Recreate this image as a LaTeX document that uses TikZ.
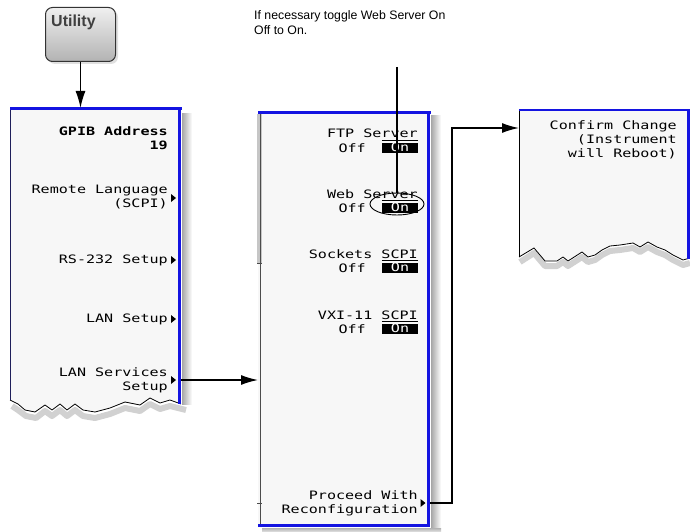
\documentclass[tikz,border=0pt]{standalone}
\usepackage{fontspec}
\setmainfont{Liberation Sans}
\newfontfamily\pf[FakeStretch=1.3]{DejaVu Sans Mono}
\usetikzlibrary{arrows.meta,shapes.geometric}
\definecolor{pblue}{RGB}{20,20,225}
\definecolor{pbg}{RGB}{247,247,247}
\definecolor{pedge}{RGB}{30,30,90}
\tikzset{
  arr/.style={line width=1.4pt,-{Latex[length=17pt,width=10pt]}},
  keytxt/.style={font=\pf\fontsize{11.6}{14}\selectfont, align=right, anchor=east, inner sep=0pt},
  keybold/.style={keytxt, font=\pf\bfseries\fontsize{11.6}{14}\selectfont},
  onbox/.style={fill=black, text=white, font=\pf\fontsize{11.6}{11}\selectfont, minimum width=36pt, minimum height=10pt, inner sep=0pt, text height=7pt, text depth=1pt},
  area/.style={draw=none, inner sep=0pt, anchor=north west},
  bluetop/.style={pblue, line width=2.5pt},
  blueside/.style={pblue, line width=3pt},
  tear/.style={black, line width=0.8pt, line join=round},
  tearshadow/.style={black, opacity=0.18, line width=6pt, line join=round},
}
\newcommand{\softtri}[1]{\fill #1 ++(-2.5,-4) -- ++(5,4) -- ++(-5,4) -- cycle;}
\begin{document}
\begin{tikzpicture}[x=1pt,y=-1pt]
\useasboundingbox (0,0) rectangle (690,532);

% ---------------- Utility button ----------------
\fill[gray!40,opacity=0.6,rounded corners=7pt] (48,10) rectangle (118,64);
\node (util) [draw=black!80, line width=1pt, rounded corners=7pt, top color=gray!12, bottom color=gray!60,
  minimum width=70pt, minimum height=54pt, anchor=north west, inner sep=0pt] at (45,7) {};
\node (utiltext) [font=\bfseries\fontsize{16}{16}\selectfont, text=black!75, anchor=west, inner sep=0pt] at (51,22) {Utility};

% ---------------- Left panel ----------------
\node (LP) [area, minimum width=171pt, minimum height=300pt] at (10,108) {};
% shadow
\shade[left color=gray!70, right color=white] (182,114) rectangle (192,404);
\draw[tearshadow] (12,406) -- (18,410) -- (26,416) -- (36,418) -- (45,411) -- (52,416) -- (60,410) -- (67,416) -- (75,410) -- (83,416) -- (95,418) -- (110,414) -- (125,408) -- (140,411) -- (150,404) -- (160,409) -- (170,406) -- (186,410);
\fill[pbg] (10,108) -- (181,108) -- (181,404) -- (170,400) -- (160,403) -- (150,398) -- (140,405) -- (125,402) -- (110,408) -- (95,412) -- (83,410) -- (75,404) -- (67,410) -- (60,404) -- (52,410) -- (45,405) -- (35,412) -- (25,410) -- (18,404) -- (10,400) -- cycle;
\draw[tear] (10,400) -- (18,404) -- (25,410) -- (35,412) -- (45,405) -- (52,410) -- (60,404) -- (67,410) -- (75,404) -- (83,410) -- (95,412) -- (110,408) -- (125,402) -- (140,405) -- (150,398) -- (160,403) -- (170,400) -- (181,404);
\draw[pedge, line width=1.2pt] (10.5,108) -- (10.5,400);
\draw[bluetop] (10,108.5) -- (182,108.5);
\draw[blueside] (179.5,108) -- (179.5,404);

\node (gpib) [keybold] at (168,138) {GPIB Address\\19};
\node (rl)   [keytxt]  at (168,197) {Remote Language\\(SCPI)};
\coordinate (rltri) at (173.5,198);
\node (rs)   [keytxt]  at (168,260) {RS-232 Setup};
\coordinate (rstri) at (173.5,260);
\node (lan)  [keytxt]  at (168,319) {LAN Setup};
\coordinate (lantri) at (173.5,319);
\node (lss)  [keytxt]  at (168,380) {LAN Services\\Setup};
\coordinate (lsstri) at (173.5,380);
\softtri{(rltri)}
\softtri{(rstri)}
\softtri{(lantri)}
\softtri{(lsstri)}

% ---------------- Middle panel ----------------
\node (MP) [area, minimum width=172pt, minimum height=414pt] at (258,112) {};
\shade[left color=gray!70, right color=white] (431,116) rectangle (441,532);
\shade[top color=gray!60, bottom color=white] (262,528) rectangle (441,534);
\fill[pbg] (258,112) rectangle (430,526);
\fill[gray!45] (256.5,114) rectangle (262,263);
\draw[gray!60!black, line width=0.9pt] (260,112) -- (260,526);
\draw[gray!60!black, line width=0.8pt] (257,263) -- (262,263);
\draw[gray!60!black, line width=0.8pt] (257,503) -- (262,503);
\draw[bluetop] (258,112.5) -- (431,112.5);
\draw[blueside] (428.5,112) -- (428.5,527);
\draw[blueside] (258,525.5) -- (430,525.5);

% FTP
\node (ftp)    [keytxt] at (418,133) {FTP Server};
\node (ftpoff) [keytxt] at (366,148) {Off};
\node (ftpon)  [onbox]  at (400,148) {On};
\draw[line width=0.6pt] (ftpon.north west) ++(0,-2.5) -- ++(36,0);
% Web
\node (web)    [keytxt] at (418,194) {Web Server};
\node (weboff) [keytxt] at (366,208) {Off};
\node (webon)  [onbox]  at (400,208) {On};
\draw[line width=0.6pt] (webon.north west) ++(0,-2.5) -- ++(36,0);
% Sockets
\node (sock)    [keytxt] at (418,254) {Sockets SCPI};
\node (sockoff) [keytxt] at (366,268) {Off};
\node (sockon)  [onbox]  at (400,268) {On};
\draw[line width=0.6pt] (sockon.north west) ++(0,-2.5) -- ++(36,0);
% VXI
\node (vxi)    [keytxt] at (418,315) {VXI-11 SCPI};
\node (vxioff) [keytxt] at (366,329) {Off};
\node (vxion)  [onbox]  at (400,329) {On};
\draw[line width=0.6pt] (vxion.north west) ++(0,-2.5) -- ++(36,0);
% Proceed
\node (pw) [keytxt] at (418,503) {Proceed With\\Reconfiguration};
\coordinate (pwtri) at (423,503);
\softtri{(pwtri)}

% highlight ellipse
\node (webell) [ellipse, draw=black, line width=0.9pt, minimum width=54pt, minimum height=22pt, inner sep=0pt] at (397,204) {};

% ---------------- Right panel ----------------
\node (RP) [area, minimum width=171pt, minimum height=150pt] at (519,110) {};
\draw[tearshadow] (520,262) -- (534,253) -- (545,266) -- (557,266) -- (563,262) -- (568,266) -- (582,257) -- (588,262) -- (595,260) -- (602,255) -- (610,251) -- (620,250) -- (633,248) -- (640,252) -- (648,247) -- (657,252) -- (665,255) -- (673,260) -- (683,265) -- (690,263);
\fill[pbg] (519,110) -- (690,110) -- (690,258) -- (683,260) -- (673,255) -- (665,250) -- (657,247) -- (648,242) -- (640,247) -- (633,243) -- (620,245) -- (610,246) -- (602,250) -- (595,255) -- (588,257) -- (582,252) -- (568,261) -- (563,257) -- (557,261) -- (545,261) -- (534,248) -- (519,257) -- cycle;
\draw[tear] (519,257) -- (534,248) -- (545,261) -- (557,261) -- (563,257) -- (568,261) -- (582,252) -- (588,257) -- (595,255) -- (602,250) -- (610,246) -- (620,245) -- (633,243) -- (640,247) -- (648,242) -- (657,247) -- (665,250) -- (673,255) -- (683,260) -- (690,258);
\draw[black, line width=1.2pt] (519.5,110) -- (519.5,257);
\draw[pblue, line width=2pt] (519,110.5) -- (690,110.5);
\draw[pblue, line width=2.5pt] (688.5,110) -- (688.5,259);
\node (cc) [keytxt] at (677,140) {Confirm Change\\(Instrument\\will Reboot)};

% ---------------- Annotation ----------------
\node (note) [anchor=north west, align=left, inner sep=0pt, font=\fontsize{12.3}{15}\selectfont] at (254,10) {If necessary toggle Web Server On\\Off to On.};
\coordinate (notept) at (397,67);
\draw[line width=1.4pt] (notept) -- (webell.north);

% ---------------- Connectors ----------------
\draw[arr] (util.south) -- (util.south |- LP.north);
\draw[arr] (LP.east |- lsstri) -- (MP.west |- lsstri);
\coordinate (bend) at (452,128);
\draw[arr] (MP.east |- pwtri) -| (bend) -- (RP.west |- bend);
\end{tikzpicture}
\end{document}
